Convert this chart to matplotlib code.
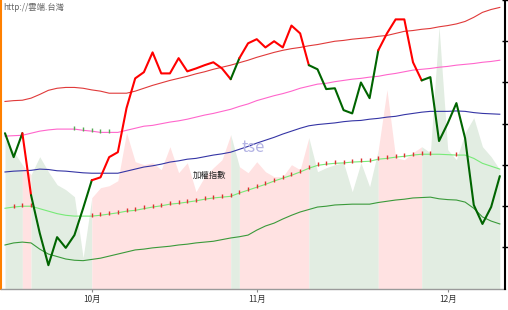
import matplotlib.pyplot as plt
import numpy as np

plt.rcParams['font.family'] = ['Liberation Sans Narrow', 'Noto Sans CJK TC', 'DejaVu Sans']

# daily index close (加權指數), mid-Sep .. early Dec
price = [8377, 8319, 8377, 8227, 8135, 8057, 8125, 8099, 8130, 8195,
         8263, 8270, 8319, 8331, 8438, 8510, 8525, 8573, 8522, 8522,
         8559, 8527, 8534, 8542, 8549, 8534, 8508, 8559, 8595, 8605,
         8585, 8600, 8585, 8638, 8619, 8542, 8532, 8484, 8486, 8433,
         8425, 8500, 8462, 8578, 8619, 8653, 8653, 8549, 8505, 8513,
         8358, 8401, 8450, 8365, 8203, 8157, 8198, 8273]

band_top = [8454, 8456, 8457, 8462, 8471, 8481, 8486, 8488, 8488, 8486,
            8482, 8479, 8474, 8474, 8474, 8479, 8486, 8493, 8499, 8505,
            8510, 8515, 8521, 8526, 8532, 8537, 8542, 8548, 8554, 8561,
            8567, 8573, 8578, 8582, 8585, 8589, 8592, 8596, 8600, 8602,
            8605, 8607, 8609, 8612, 8614, 8619, 8624, 8626, 8629, 8631,
            8635, 8638, 8642, 8648, 8658, 8670, 8677, 8682]

band_upper = [8370, 8371, 8372, 8377, 8382, 8385, 8387, 8387, 8387, 8384,
              8382, 8379, 8379, 8379, 8384, 8389, 8394, 8396, 8400, 8404,
              8407, 8411, 8416, 8421, 8425, 8430, 8435, 8442, 8448, 8456,
              8462, 8468, 8473, 8479, 8486, 8491, 8496, 8498, 8502, 8505,
              8508, 8510, 8513, 8515, 8519, 8522, 8526, 8530, 8532, 8534,
              8537, 8539, 8542, 8544, 8546, 8549, 8551, 8554]

band_mid = [8283, 8285, 8286, 8287, 8290, 8289, 8286, 8285, 8283, 8281,
            8280, 8280, 8280, 8280, 8285, 8290, 8295, 8298, 8302, 8307,
            8310, 8314, 8316, 8320, 8324, 8327, 8331, 8338, 8345, 8353,
            8360, 8367, 8375, 8382, 8389, 8395, 8398, 8400, 8402, 8405,
            8407, 8408, 8411, 8413, 8416, 8418, 8422, 8425, 8428, 8430,
            8430, 8430, 8431, 8430, 8427, 8425, 8424, 8423]

band_lower = [8195, 8198, 8200, 8200, 8194, 8188, 8182, 8178, 8176, 8176,
              8176, 8178, 8181, 8184, 8188, 8190, 8194, 8198, 8201, 8205,
              8207, 8210, 8213, 8217, 8220, 8222, 8224, 8232, 8239, 8246,
              8253, 8261, 8268, 8275, 8283, 8292, 8299, 8302, 8304, 8305,
              8307, 8308, 8309, 8314, 8316, 8319, 8321, 8324, 8326, 8326,
              8326, 8325, 8324, 8324, 8316, 8304, 8297, 8290]

band_bottom = [8106, 8111, 8113, 8111, 8096, 8084, 8078, 8072, 8069, 8068,
               8071, 8074, 8079, 8084, 8089, 8094, 8096, 8099, 8101, 8103,
               8106, 8108, 8111, 8113, 8115, 8119, 8123, 8126, 8130, 8142,
               8152, 8159, 8169, 8178, 8186, 8192, 8198, 8200, 8203, 8204,
               8205, 8205, 8205, 8209, 8212, 8215, 8217, 8220, 8221, 8222,
               8218, 8216, 8215, 8210, 8195, 8174, 8164, 8157]

volume = [1490, 1370, 1240, 1140, 1320, 1170, 1040, 990, 920, 310,
          910, 1010, 1030, 1080, 1560, 1270, 1240, 1260, 1190, 1420,
          1160, 1260, 970, 1120, 1210, 1290, 1540, 1220, 1160, 1270,
          1170, 1120, 1120, 1240, 1190, 1510, 1170, 1210, 1240, 1260,
          970, 1260, 1020, 1390, 1990, 1310, 1290, 1360, 1420, 1360,
          2620, 1390, 1290, 1560, 1710, 1420, 1320, 1190]

# trend state of each day-to-day segment: u = up (red), d = down (green)
regime = "ddu" + "d" * 7 + "u" * 16 + "d" + "u" * 8 + "d" * 8 + "u" * 5 + "d" * 9

lower_marks = [1, 2, 3] + list(range(10, 50)) + [52]
upper_marks = [8, 9, 10, 11, 12]

month_pos = [10, 29, 51]
month_labels = ['10月', '11月', '12月']
price_ticks = [8100, 8200, 8300, 8400, 8500, 8600, 8700]

x = np.arange(len(price))

# group segments into runs of the same state
runs = []
start = 0
for j in range(1, len(regime) + 1):
    if j == len(regime) or regime[j] != regime[start]:
        runs.append((start, j, regime[start]))
        start = j

fig = plt.figure(figsize=(5.08, 3.10), dpi=100)
rect = [1 / 508, 21.3 / 310, 503.5 / 508, 288.7 / 310]
base = fig.add_axes(rect)
base.set_xlim(-0.46, 57.54)
base.set_ylim(0, 2887)

for s, e, st in runs:
    base.fill_between(x[s:e + 1], volume[s:e + 1], 0,
                      color='#ffe2e2' if st == 'u' else '#e2ede2', lw=0)

for side in ['top', 'right']:
    base.spines[side].set_visible(False)
base.spines['left'].set_color('#ff8000')
base.spines['left'].set_linewidth(1.5)
base.spines['bottom'].set_color('#9a9a9a')
base.spines['bottom'].set_linewidth(1)
base.set_yticks([])
base.set_xticks(month_pos, month_labels)
base.tick_params(axis='x', length=2.5, color='#888888', labelsize=6,
                 labelcolor='#333333', pad=2)

ax = base.twinx()
ax.set_ylim(8000, 8699)
ax.plot(x, band_top, color='#e03a3a', lw=0.8)
ax.plot(x, band_upper, color='#ff66cc', lw=0.8)
ax.plot(x, band_mid, color='#3535a5', lw=0.8)
ax.plot(x, band_lower, color='#77ea77', lw=0.8)
ax.plot(x, band_bottom, color='#3a9a3a', lw=0.8)
ax.plot(x[lower_marks], np.array(band_lower)[lower_marks] + 3, ls='none',
        marker='|', ms=3, mew=1, color='#dd3030')
ax.plot(x[upper_marks], np.array(band_upper)[upper_marks] + 3, ls='none',
        marker='|', ms=3, mew=1, color='#55aa55')

for s, e, st in runs:
    ax.plot(x[s:e + 1], price[s:e + 1], color='#ff0000' if st == 'u' else '#006400',
            lw=1.5, solid_capstyle='round', solid_joinstyle='round')

for side in ['top', 'left', 'bottom']:
    ax.spines[side].set_visible(False)
ax.spines['right'].set_linewidth(1.5)
ax.set_yticks(price_ticks)
ax.tick_params(axis='y', direction='inout', length=5, width=1, labelright=False)

fig.text(0.006, 0.977, 'http://雲端.台灣', fontsize=6, color='#666666', va='center')
fig.text(0.413, 0.435, '加權指數', fontsize=6, color='#222222', ha='center', va='center')
fig.text(0.498, 0.523, 'tse', fontsize=12, color='#b4b4e4', ha='center', va='center')

plt.savefig('out.png', dpi=100)
